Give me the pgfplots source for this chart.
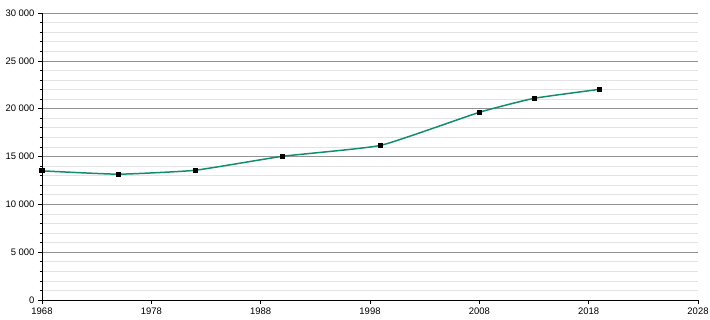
\documentclass[border=0pt]{standalone}
\usepackage{pgfplots}
\pgfplotsset{compat=1.18}
\usepackage{fontspec}
\setmainfont{Liberation Sans}
\definecolor{linegreen}{RGB}{20,140,110}
\begin{document}
\begin{tikzpicture}[x=1bp,y=1bp]
\begin{axis}[
  at={(0,0)}, anchor=south west,
  scale only axis, width=656bp, height=287bp,
  xmin=1968, xmax=2028, ymin=0, ymax=30000,
  xtick={1968,1978,...,2028},
  ytick={0,5000,...,30000},
  minor y tick num=4,
  scaled ticks=false,
  axis x line*=bottom, axis y line*=left,
  axis line style={black, line width=0.8pt},
  tick align=outside,
  major tick length=4bp, minor tick length=2.5bp,
  tick style={black, line width=0.6pt},
  ymajorgrids, yminorgrids,
  major grid style={gray!85, line width=0.6pt},
  minor grid style={gray!22, line width=0.6pt},
  /pgf/number format/assume math mode=true,
  tick label style={font=\fontsize{9.5}{11}\selectfont},
  yticklabel style={/pgf/number format/.cd, fixed, 1000 sep={\ }},
  xticklabel style={/pgf/number format/.cd, fixed, 1000 sep={}},
  clip=false,
]
\addplot[color=linegreen, line width=1.5pt, smooth, tension=0.25, mark=square*, mark size=2bp, mark options={fill=black, draw=black, line width=0pt}]
 coordinates {(1968,13500) (1975,13150) (1982,13560) (1990,15020) (1999,16170) (2008,19620) (2013,21080) (2019,22020)};
\end{axis}
\pgfresetboundingbox
\path[use as bounding box] (-42bp,-20bp) rectangle (668bp,300bp);
\end{tikzpicture}
\end{document}
